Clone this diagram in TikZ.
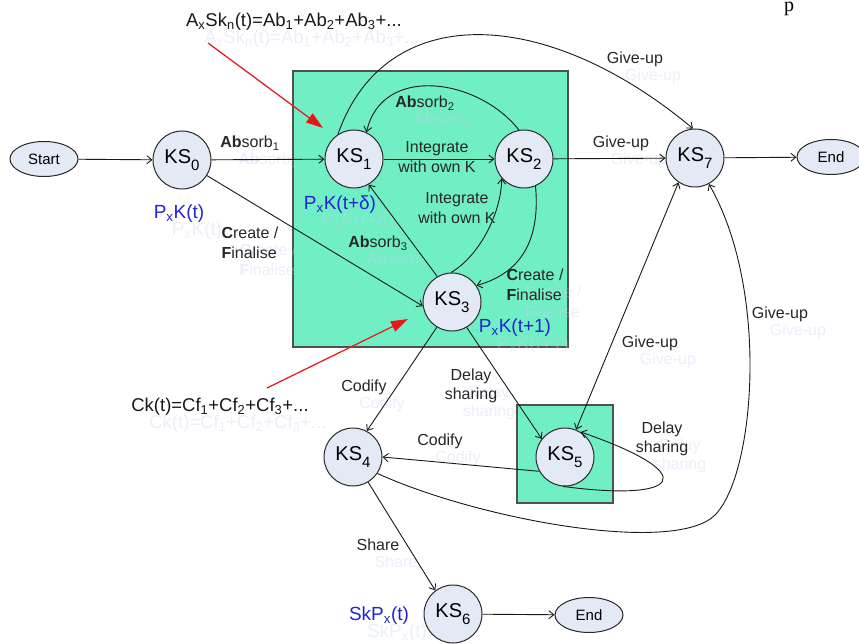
\documentclass[tikz,border=0pt]{standalone}
\usepackage{fontspec}
\setmainfont{Liberation Sans}
\newfontfamily\pageserif{Liberation Serif}
\usetikzlibrary{arrows.meta,shapes.geometric}

\definecolor{panelgreen}{RGB}{112,238,196}
\definecolor{panelframe}{RGB}{80,80,80}
\definecolor{statefill}{RGB}{228,233,246}
\definecolor{stateline}{RGB}{40,40,40}
\definecolor{probblue}{RGB}{35,35,210}
\definecolor{echo}{RGB}{200,210,240}
\definecolor{pointer}{RGB}{232,22,22}

\pgfdeclarelayer{panels}
\pgfdeclarelayer{echoes}
\pgfsetlayers{panels,echoes,main}

% larger, lowered index for the state names
\newcommand\ksub[1]{\raisebox{-0.32em}{\fontsize{15}{15}\selectfont #1}}
% a label together with its faint offset echo
\newcommand\putlabel[4][]{%
  \begin{pgfonlayer}{echoes}
    \node[edgelabel,#1,echoed] at (#3) {#4};
  \end{pgfonlayer}
  \node[edgelabel,#1] (#2) at (#3) {#4};}

\begin{document}
\begin{tikzpicture}[x=1pt,y=-1pt,
  state/.style={circle,draw=stateline,line width=1pt,fill=statefill,
    minimum size=58pt,inner sep=0pt,font=\fontsize{20}{22}\selectfont},
  term/.style={ellipse,draw=stateline,line width=1pt,fill=statefill,
    minimum width=68pt,minimum height=35pt,inner sep=0pt,font=\fontsize{15}{17}\selectfont},
  edgelabel/.style={inner sep=0pt,font=\fontsize{16}{19.5}\selectfont,text=black!85,align=center},
  leftlbl/.style={align=left},
  problabel/.style={font=\fontsize{19}{21}\selectfont,text=probblue},
  formula/.style={font=\fontsize{18.5}{21}\selectfont,text=black!90},
  echoed/.style={text=echo,text opacity=0.35,xshift=18pt,yshift=-17pt},
  flow/.style={draw=black!90,line width=0.9pt,-{Straight Barb[length=5pt,width=8pt]}},
  twoway/.style={draw=black!90,line width=0.9pt,{Straight Barb[length=5pt,width=8pt]}-{Straight Barb[length=5pt,width=8pt]}},
  pointerarrow/.style={draw=pointer,line width=1.2pt,-{Triangle[length=17pt,width=11pt]}},
  panel/.style={fill=panelgreen,draw=panelframe,line width=1.4pt}]

\useasboundingbox (0,0) rectangle (859,644);

% shaded sub-processes
\begin{pgfonlayer}{panels}
  \fill[white] (0,0) rectangle (859,644);
  \draw[panel] (293,71) rectangle (568,347);
  \draw[panel] (517,405) rectangle (613,503);
\end{pgfonlayer}

% states
\node[term]  (start) at (44,159)  {Start};
\node[state] (k0)    at (182,160) {KS\ksub{0}};
\node[state] (k1)    at (354,159) {KS\ksub{1}};
\node[state] (k2)    at (524,159) {KS\ksub{2}};
\node[state] (k7)    at (695,158) {KS\ksub{7}};
\node[term]  (endA)  at (831,157) {End};
\node[state] (k3)    at (452,302) {KS\ksub{3}};
\node[state] (k4)    at (353,457) {KS\ksub{4}};
\node[state] (k5)    at (565,457) {KS\ksub{5}};
\node[state] (k6)    at (453,614) {KS\ksub{6}};
\node[term]  (endB)  at (589,615) {End};

% transitions
\draw[flow] (start) -- (k0);
\draw[flow] (k0) -- (k1);
\draw[flow] (k0.-32) -- (k3.188);
\draw[flow] (k1) -- (k2);
\draw[flow] (k2.100) .. controls (478,78) and (382,64) .. (k1.65);
\draw[flow] (k1.123) .. controls (385,0) and (545,5) .. (k7.94);
\draw[flow] (k2) -- (k7);
\draw[flow] (k7) -- (endA);
\draw[flow] (k3.120) -- (k1.-60);
\draw[flow] (k3.92) .. controls (478,257) and (501,215) .. (k2.221);
\draw[flow] (k2.-67) .. controls (540,235) and (525,272) .. (k3.34);
\draw[flow] (k3.239) -- (k4.62);
\draw[flow] (k3.-60) -- (k5.142);
\draw[twoway] (k5.68) -- (k7.236);
\draw[flow] (k4.-34) .. controls (480,520) and (675,555) .. (715,515)
                     .. controls (755,475) and (770,290) .. (k7.-62);
\draw[flow] (k5.209) -- (k4.0);
\draw[flow] (k5.266) .. controls (680,502) and (705,475) .. (k5.58);
\draw[flow] (k4.-59) -- (k6.127);
\draw[flow] (k6) -- (endB);

% transition labels
\putlabel{lAbA}{250,143}{\textbf{Ab}sorb\textsubscript{1}}
\putlabel[leftlbl]{lCfA}{250,243}{\textbf{C}reate /\\\textbf{F}inalise}
\node[edgelabel] (lIntA) at (437,157) {Integrate\\with own K};
\putlabel{lAbB}{425,103}{\textbf{Ab}sorb\textsubscript{2}}
\putlabel{lGuA}{635,59}{Give-up}
\putlabel{lGuB}{621,143}{Give-up}
\putlabel{lAbC}{378,243}{\textbf{Ab}sorb\textsubscript{3}}
\node[edgelabel] (lIntB) at (457,208) {Integrate\\with own K};
\putlabel[leftlbl]{lCfB}{535,285}{\textbf{C}reate /\\\textbf{F}inalise}
\putlabel{lCodA}{364,387}{Codify}
\putlabel{lDsA}{471,386}{Delay\\sharing}
\putlabel{lGuC}{650,343}{Give-up}
\putlabel{lGuD}{780,314}{Give-up}
\putlabel{lCodB}{440,441}{Codify}
\putlabel{lDsB}{662,439}{Delay\\sharing}
\putlabel{lShare}{378,545}{Share}

% knowledge measures
\putlabel[problabel]{pA}{179,214}{P\textsubscript{x}K(t)}
\putlabel[problabel]{pB}{340,205}{P\textsubscript{x}K(t+δ)}
\putlabel[problabel]{pC}{515,328}{P\textsubscript{x}K(t+1)}
\putlabel[problabel]{pD}{379,616}{SkP\textsubscript{x}(t)}

% formulas with their pointers
\putlabel[formula]{fAbs}{294,22}{A\textsubscript{x}Sk\textsubscript{n}(t)=Ab\textsubscript{1}+Ab\textsubscript{2}+Ab\textsubscript{3}+...}
\putlabel[formula]{fCod}{220,407}{Ck(t)=Cf\textsubscript{1}+Cf\textsubscript{2}+Cf\textsubscript{3}+...}

\coordinate (ptrA0) at (208,43);
\coordinate (ptrA1) at (323,128);
\coordinate (ptrB0) at (267,388);
\coordinate (ptrB1) at (408,319);
\begin{pgfonlayer}{echoes}
  \draw[pointerarrow,color=echo,opacity=0.35,shift={(18,17)}] (ptrA0) -- (ptrA1);
  \draw[pointerarrow,color=echo,opacity=0.35,shift={(18,17)}] (ptrB0) -- (ptrB1);
\end{pgfonlayer}
\draw[pointerarrow] (ptrA0) -- (ptrA1);
\draw[pointerarrow] (ptrB0) -- (ptrB1);

% running text of the page
\node[font=\pageserif\fontsize{20}{20}\selectfont,anchor=base,inner sep=0pt] (pagemark) at (789,12) {p};
\end{tikzpicture}
\end{document}
